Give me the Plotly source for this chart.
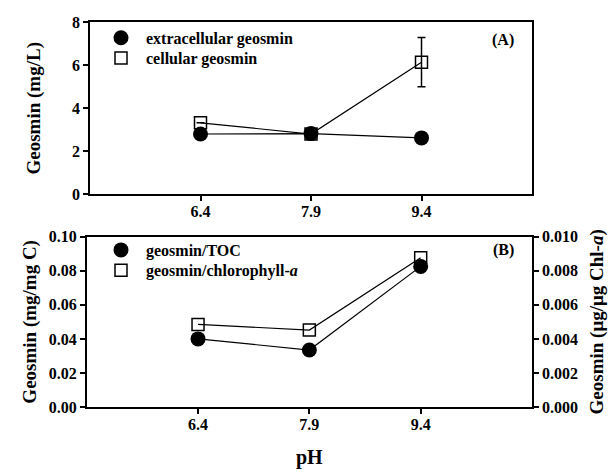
import plotly.graph_objects as go

ph = [6.4, 7.9, 9.4]
ph_ticks = ["6.4", "7.9", "9.4"]
extracellular = [2.80, 2.82, 2.62]
cellular = [3.32, 2.80, 6.15]
cellular_err = [0, 0, 1.15]
geo_toc = [0.040, 0.0335, 0.0825]
geo_chla = [0.00485, 0.00452, 0.00875]

FONT = "Liberation Serif"
W, H = 612, 475

def px(x):
    return x / W

def py(y):
    return 1 - y / H

LINE = dict(color="black", width=1.2)
CIRCLE = dict(symbol="circle", size=15, color="black")
SQUARE = dict(symbol="square-open", size=12, color="black", line=dict(width=1.5))

fig = go.Figure()

# Panel A
fig.add_trace(go.Scatter(x=ph, y=extracellular, mode="lines", line=LINE, showlegend=False,
                         xaxis="x", yaxis="y"))
fig.add_trace(go.Scatter(x=ph, y=cellular, mode="lines", line=LINE, showlegend=False,
                         xaxis="x", yaxis="y"))
fig.add_trace(go.Scatter(x=ph, y=cellular, mode="markers", name="<b>cellular geosmin</b>",
                         marker=SQUARE,
                         error_y=dict(type="data", array=cellular_err, visible=True, color="black",
                                      thickness=1.5, width=4),
                         legend="legend2", xaxis="x", yaxis="y"))
fig.add_trace(go.Scatter(x=ph, y=extracellular, mode="markers", name="<b>extracellular geosmin</b>",
                         marker=CIRCLE, legend="legend", xaxis="x", yaxis="y"))

# Panel B
fig.add_trace(go.Scatter(x=ph, y=geo_toc, mode="lines", line=LINE, showlegend=False,
                         xaxis="x2", yaxis="y2"))
fig.add_trace(go.Scatter(x=ph, y=geo_toc, mode="markers", name="<b>geosmin/TOC</b>",
                         marker=CIRCLE, legend="legend3", xaxis="x2", yaxis="y2"))
fig.add_trace(go.Scatter(x=ph, y=geo_chla, mode="lines", line=LINE, showlegend=False,
                         xaxis="x2", yaxis="y3"))
fig.add_trace(go.Scatter(x=ph, y=geo_chla, mode="markers", name="<b>geosmin/chlorophyll-<i>a</i></b>",
                         marker=SQUARE, legend="legend4", xaxis="x2", yaxis="y3"))

tickfont = dict(family=FONT, size=16, color="black", weight="bold")
titlefont = dict(family=FONT, size=19, color="black", weight="bold")
axis_common = dict(showline=True, linecolor="black", linewidth=1.5, ticks="outside", ticklen=5,
                   tickwidth=1.5, tickcolor="black", showgrid=False, zeroline=False, tickfont=tickfont)

def leg(x, y):
    return dict(x=px(x), y=py(y), xanchor="left", yanchor="middle", bgcolor="rgba(0,0,0,0)",
                font=dict(family=FONT, size=16, color="black"), itemwidth=40,
                borderwidth=0)

fig.update_layout(
    width=W, height=H,
    margin=dict(l=0, r=0, t=0, b=0),
    paper_bgcolor="white", plot_bgcolor="white",
    font=dict(family=FONT, color="black"),
    xaxis=dict(domain=[px(90), px(532)], range=[4.9, 10.9], tickvals=ph, ticktext=ph_ticks,
               anchor="y", mirror=True, ticklabelstandoff=-3, **axis_common),
    yaxis=dict(domain=[py(193), py(15)], range=[0, 8], dtick=2, anchor="x", mirror=True,
               title=dict(text="Geosmin (mg/L)", font=titlefont, standoff=26), **axis_common),
    xaxis2=dict(domain=[px(86.7), px(532)], range=[4.9, 10.9], tickvals=ph, ticktext=ph_ticks,
                anchor="y2", mirror=True, ticklabelstandoff=-3,
                title=dict(text="pH", font=dict(family=FONT, size=20, color="black", weight="bold"),
                           standoff=18),
                **axis_common),
    yaxis2=dict(domain=[py(414), py(237)], range=[0, 0.10], dtick=0.02, tickformat=".2f", anchor="x2",
                title=dict(text="Geosmin (mg/mg C)", font=titlefont, standoff=7), **axis_common),
    yaxis3=dict(domain=[py(414), py(237)], range=[0, 0.010], dtick=0.002, tickformat=".3f",
                overlaying="y2", side="right", anchor="x2",
                title=dict(text="Geosmin (μg/μg Chl-<i>a</i>)", font=titlefont, standoff=13),
                **axis_common),
    legend=leg(96, 31),
    legend2=leg(96, 52),
    legend3=leg(96, 251),
    legend4=leg(96, 272),
    annotations=[
        dict(text="<b>(A)</b>", x=px(516), y=py(33), xref="paper", yref="paper", showarrow=False,
             xanchor="right", yanchor="middle", font=dict(family=FONT, size=16, color="black")),
        dict(text="<b>(B)</b>", x=px(516), y=py(251), xref="paper", yref="paper", showarrow=False,
             xanchor="right", yanchor="middle", font=dict(family=FONT, size=16, color="black")),
    ],
)

fig.write_html("out.html")
